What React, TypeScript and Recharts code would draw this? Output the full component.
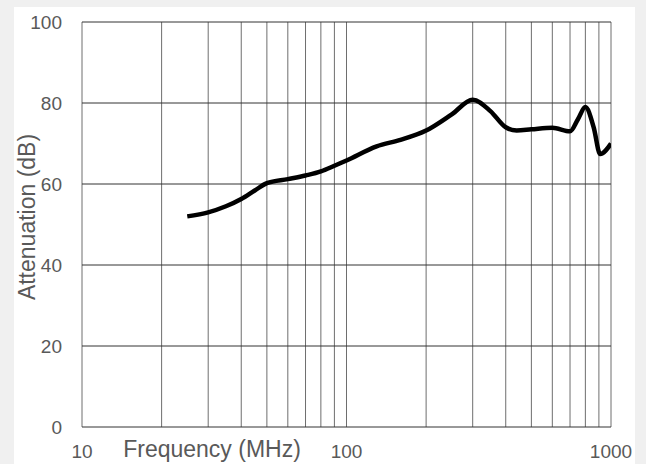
import { CartesianGrid, Line, LineChart, XAxis, YAxis } from 'recharts';

const freqMHz = [25, 30, 35, 40, 45, 50, 60, 70, 80, 90, 100, 130, 160, 200, 250, 300, 350, 400, 440, 500, 600, 700, 750, 800, 860, 910, 1000];
const attenuationDb = [52, 53, 54.5, 56.3, 58.4, 60.2, 61.2, 62.1, 63.1, 64.5, 65.8, 69.3, 70.9, 73.2, 77.2, 80.8, 78, 74, 73.2, 73.5, 73.9, 73, 76, 79, 74, 67.4, 70];

const xTicks = [10, 20, 30, 40, 50, 60, 70, 80, 90, 100, 200, 300, 400, 500, 600, 700, 800, 900, 1000];
const xLabelled = [10, 100, 1000];
const yTicks = [0, 20, 40, 60, 80, 100];

const data = freqMHz.map((f, i) => ({ freq: f, db: attenuationDb[i] }));

const font = '"Liberation Sans", Arial, sans-serif';
const textGray = '#595959';

export default function App() {
    return (
        <div style={{ position: 'absolute', left: 0, top: 0, width: 646, height: 464, background: '#f0f0f0', overflow: 'hidden', fontFamily: font }}>
            <div style={{ position: 'absolute', left: 14, top: 7, width: 621, height: 457, background: '#fff' }} />
            <div style={{ position: 'absolute', left: 0, top: 0 }}>
                <LineChart width={646} height={464} data={data} margin={{ top: 22, right: 35, bottom: 7, left: 0 }}>
                    <CartesianGrid horizontal={false} stroke="#6e6e6e" strokeWidth={1} />
                    <CartesianGrid vertical={false} stroke="#333" strokeWidth={1} />
                    <XAxis
                        dataKey="freq"
                        type="number"
                        scale="log"
                        domain={[10, 1000]}
                        ticks={xTicks}
                        interval={0}
                        allowDataOverflow
                        height={30}
                        axisLine={false}
                        tickLine={false}
                        tickSize={0}
                        tickMargin={18}
                        tick={{ fontSize: 19, fill: textGray, fontFamily: font }}
                        tickFormatter={(v) => (xLabelled.includes(v) ? String(v) : '')}
                    />
                    <YAxis
                        type="number"
                        domain={[0, 100]}
                        ticks={yTicks}
                        interval={0}
                        width={82}
                        axisLine={false}
                        tickLine={false}
                        tickSize={0}
                        tickMargin={20}
                        tick={{ fontSize: 19, fill: textGray, fontFamily: font }}
                    />
                    <Line
                        dataKey="db"
                        type="monotone"
                        stroke="#000"
                        strokeWidth={4.5}
                        dot={false}
                        activeDot={false}
                        isAnimationActive={false}
                    />
                </LineChart>
            </div>
            <div
                style={{
                    position: 'absolute', left: 212, top: 449, transform: 'translate(-50%, -50%)',
                    fontSize: 23, color: textGray, whiteSpace: 'nowrap', lineHeight: 1,
                }}
            >
                Frequency (MHz)
            </div>
            <div
                style={{
                    position: 'absolute', left: 27, top: 217, transform: 'translate(-50%, -50%) rotate(-90deg)',
                    fontSize: 23, color: textGray, whiteSpace: 'nowrap', lineHeight: 1,
                }}
            >
                Attenuation (dB)
            </div>
        </div>
    );
}
